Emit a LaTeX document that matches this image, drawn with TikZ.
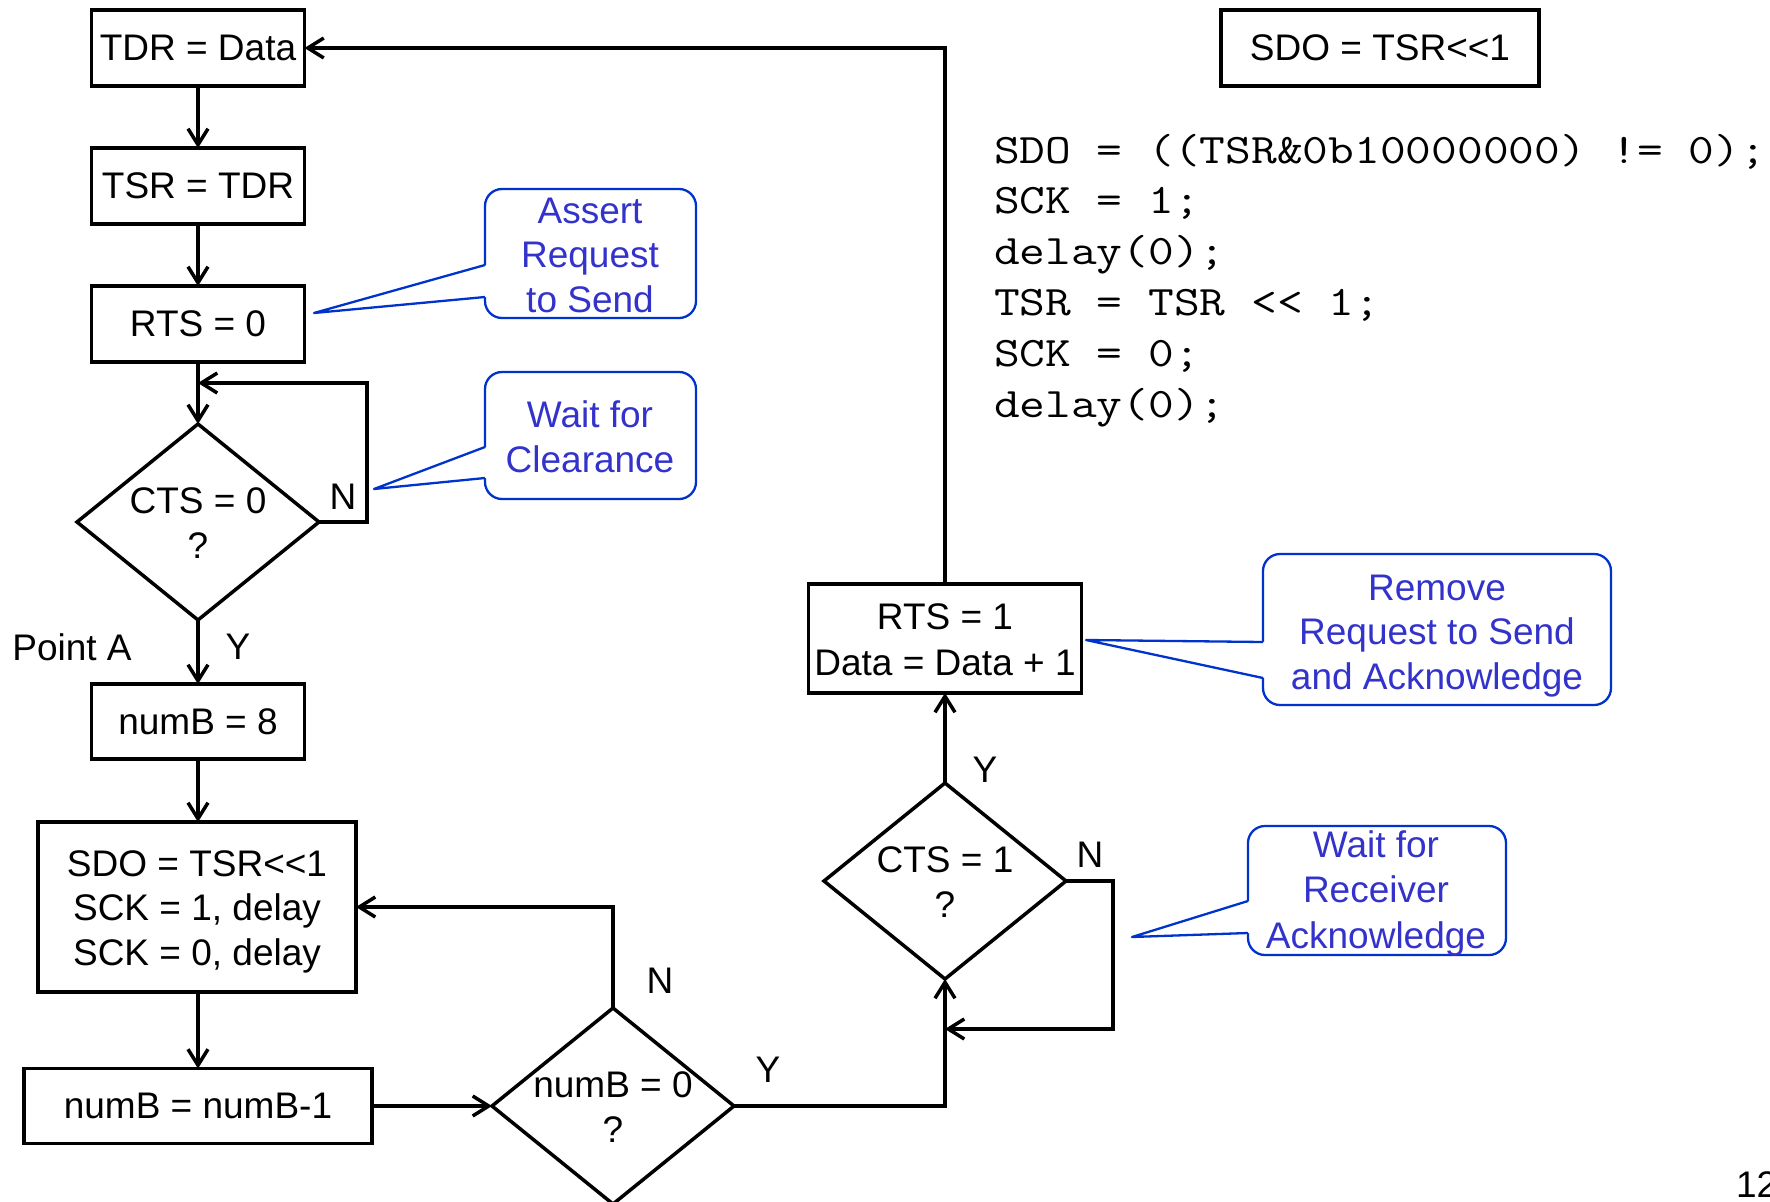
\documentclass[tikz,border=0pt]{standalone}
\usepackage{fontspec}
\setmainfont{Liberation Sans}
\usepackage{graphicx}
\usetikzlibrary{arrows.meta,shapes.geometric}

\definecolor{noteline}{RGB}{0,51,204}
\definecolor{notetext}{RGB}{51,51,204}
\newcommand\flowfont{\fontsize{37}{44.5}\selectfont}
\newcommand\cdfont{\ttfamily\fontsize{42}{50.8}\selectfont}
\newcommand\cdline[1]{\scalebox{1.19}[1]{#1}}

\begin{document}
\begin{tikzpicture}[x=1pt,y=-1pt,
  every node/.style={inner sep=0pt, outer sep=0pt},
  flow/.style={line width=3.5pt},
  arr/.style={flow, -{Straight Barb[length=16pt,width=20pt]}},
  box/.style={draw, line width=3.5pt, rectangle, font=\flowfont},
  dec/.style={draw, line width=3.5pt, diamond, minimum width=242pt, minimum height=196pt},
  lbl/.style={font=\flowfont, anchor=base},
  note/.style={draw=noteline, line width=2.3pt, rounded corners=17pt, fill=white},
  pointer/.style={draw=noteline, line width=2.3pt, line join=round},
  notetxt/.style={font=\flowfont, text=notetext, anchor=base},
  code/.style={font=\cdfont, anchor=base west},
]
\useasboundingbox (0,0) rectangle (1770,1202);

% ---------- process boxes ----------
\node[box, minimum width=213pt, minimum height=76pt] (tdr)    at (198,48)    {TDR = Data};
\node[box, minimum width=213pt, minimum height=76pt] (tsr)    at (198,186)   {TSR = TDR};
\node[box, minimum width=213pt, minimum height=76pt] (rts0)   at (198,324)   {RTS = 0};
\node[box, minimum width=213pt, minimum height=75pt] (numb8)  at (198,721.5) {numB = 8};
\node[box, minimum width=318pt, minimum height=170pt] (sdo)   at (197,907)   {};
\node[box, minimum width=348pt, minimum height=75pt] (numbm1) at (198,1106)  {numB = numB-1};
\node[box, minimum width=273pt, minimum height=109pt] (rts1)  at (945,638.5) {};
\node[box, minimum width=318pt, minimum height=76pt] (sdotop) at (1380,48)   {SDO = TSR<{}<1};

\node[lbl] (sdoa) at (197,876) {SDO = TSR<{}<1};
\node[lbl] (sdob) at (197,920) {SCK = 1, delay};
\node[lbl] (sdoc) at (197,965) {SCK = 0, delay};
\node[lbl] (rtsa) at (945,629) {RTS = 1};
\node[lbl] (rtsb) at (945,675) {Data = Data + 1};

% ---------- decisions ----------
\node[dec] (d0) at (198,522)  {};
\node[dec] (dn) at (613,1106) {};
\node[dec] (d1) at (945,881)  {};
\node[lbl] (d0a) at (198,513)  {CTS = 0};
\node[lbl] (d0b) at (198,558)  {?};
\node[lbl] (dna) at (613,1097) {numB = 0};
\node[lbl] (dnb) at (613,1142) {?};
\node[lbl] (d1a) at (945,872)  {CTS = 1};
\node[lbl] (d1b) at (945,917)  {?};

% ---------- branch labels ----------
\node[lbl] (n0) at (343,509)  {N};
\node[lbl] (y0) at (238,659)  {Y};
\node[lbl] (pa) at (72,660)   {Point A};
\node[lbl] (nn) at (660,993)  {N};
\node[lbl] (yn) at (768,1082) {Y};
\node[lbl] (n1) at (1090,867) {N};
\node[lbl] (y1) at (985,782)  {Y};

% ---------- connectors ----------
\coordinate (j0) at (198,383);
\coordinate (j1) at (945,1029);
\draw[arr] (tdr.south) -- (tsr.north);
\draw[arr] (tsr.south) -- (rts0.north);
\draw[arr] (rts0.south) -- (d0.north);
\draw[arr] (d0.east) -- ++(48,0) |- (j0);
\draw[arr] (d0.south) -- (numb8.north);
\draw[arr] (numb8.south) -- (sdo.north -| numb8.south);
\draw[arr] (sdo.south -| numbm1.north) -- (numbm1.north);
\draw[arr] (numbm1.east) -- (dn.west);
\draw[arr] (dn.north) |- (sdo.east);
\draw[arr] (dn.east) -| (d1.south);
\draw[arr] (d1.east) -- ++(47,0) |- (j1);
\draw[arr] (d1.north) -- (rts1.south);
\draw[arr] (rts1.north) |- (tdr.east);

% ---------- callouts ----------
\node[note, minimum width=211pt, minimum height=129pt] (c1) at (590.5,253.5) {};
\fill[white] (314,313) -- (487,265) -- (487,297) -- cycle;
\draw[pointer] (485,265) -- (314,313) -- (485,297);
\node[notetxt] (c1a) at (590,223) {Assert};
\node[notetxt] (c1b) at (590,267) {Request};
\node[notetxt] (c1c) at (590,312) {to Send};

\node[note, minimum width=211pt, minimum height=127pt] (c2) at (590.5,435.5) {};
\fill[white] (374,489) -- (487,447) -- (487,478) -- cycle;
\draw[pointer] (485,447) -- (374,489) -- (485,478);
\node[notetxt] (c2a) at (590,427) {Wait for};
\node[notetxt] (c2b) at (590,472) {Clearance};

\node[note, minimum width=348pt, minimum height=151pt] (c3) at (1437,629.5) {};
\fill[white] (1086,640) -- (1265,642) -- (1265,678) -- cycle;
\draw[pointer] (1263,642) -- (1086,640) -- (1263,678);
\node[notetxt] (c3a) at (1437,600) {Remove};
\node[notetxt] (c3b) at (1437,644) {Request to Send};
\node[notetxt] (c3c) at (1437,689) {and Acknowledge};

\node[note, minimum width=258pt, minimum height=129pt] (c4) at (1377,890.5) {};
\fill[white] (1132,937) -- (1250,901) -- (1250,933) -- cycle;
\draw[pointer] (1248,901) -- (1132,937) -- (1248,933);
\node[notetxt] (c4a) at (1376,857) {Wait for};
\node[notetxt] (c4b) at (1376,902) {Receiver};
\node[notetxt] (c4c) at (1376,948) {Acknowledge};

% ---------- code listing ----------
\node[code] (k1) at (994,163)   {\cdline{SDO = ((TSR\&0b10000000) != 0);}};
\node[code] (k2) at (994,213.8) {\cdline{SCK = 1;}};
\node[code] (k3) at (994,264.6) {\cdline{delay(0);}};
\node[code] (k4) at (994,315.4) {\cdline{TSR = TSR << 1;}};
\node[code] (k5) at (994,366.2) {\cdline{SCK = 0;}};
\node[code] (k6) at (994,417)   {\cdline{delay(0);}};

% ---------- page number ----------
\node[font=\flowfont, anchor=base west] (pg) at (1736,1197) {12};
\end{tikzpicture}
\end{document}
